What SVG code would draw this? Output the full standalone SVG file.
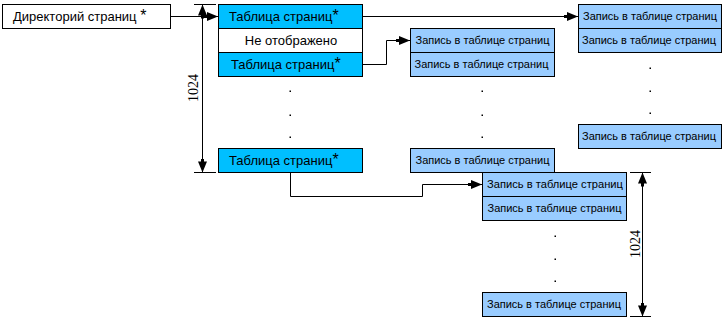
<svg xmlns="http://www.w3.org/2000/svg" width="722" height="318" viewBox="0 0 722 318">
<style>
.box{stroke:#000;stroke-width:1}
.pt{fill:#00BFFF}
.wh{fill:#FFFFFF}
.en{fill:#99CCFF}
.t{font-family:"Liberation Sans",Arial,sans-serif;font-size:13px;fill:#000}
.s{font-size:16px}
.e{font-family:"Liberation Sans",Arial,sans-serif;font-size:11.5px;fill:#000}
.d{font-family:"Liberation Serif","Times New Roman",serif;font-size:14px;fill:#000}
.ln{fill:none;stroke:#000;stroke-width:1}
.dot{fill:#000}
</style>
<defs>
<marker id="ah" markerUnits="userSpaceOnUse" markerWidth="16" markerHeight="12" refX="14" refY="5" orient="auto-start-reverse" viewBox="0 0 16 10">
<path d="M0,3.5 L3,3.5 L3,0.5 L14,5 L3,9.5 L3,6.5 L0,6.5 Z" fill="#000"/>
</marker>
</defs>
<rect width="722" height="318" fill="#FFFFFF"/>
<g id="connectors">
<line class="ln" x1="170.5" y1="16.5" x2="218" y2="16.5" marker-end="url(#ah)"/>
<line class="ln" x1="362.5" y1="16.5" x2="578" y2="16.5" marker-end="url(#ah)"/>
<polyline class="ln" points="362.5,64.5 386.5,64.5 386.5,40.5 410,40.5" marker-end="url(#ah)"/>
<polyline class="ln" points="290.5,172.5 290.5,196.5 422.5,196.5 422.5,184.5 482,184.5" marker-end="url(#ah)"/>
</g>
<g id="dim1">
<line class="ln" x1="194" y1="4.5" x2="216" y2="4.5"/>
<line class="ln" x1="194" y1="172.5" x2="216" y2="172.5"/>
<line class="ln" x1="202.5" y1="4.5" x2="202.5" y2="172.5" marker-start="url(#ah)" marker-end="url(#ah)"/>
<text class="d" transform="translate(198,88) rotate(-90)" text-anchor="middle">1024</text>
</g>
<g id="dim2">
<line class="ln" x1="630" y1="172.5" x2="651" y2="172.5"/>
<line class="ln" x1="630" y1="316.5" x2="651" y2="316.5"/>
<line class="ln" x1="642.5" y1="172.5" x2="642.5" y2="316.5" marker-start="url(#ah)" marker-end="url(#ah)"/>
<text class="d" transform="translate(640,244) rotate(-90)" text-anchor="middle">1024</text>
</g>
<g id="directory">
<rect class="box wh" x="2.5" y="4.5" width="168" height="24"/>
<text class="t" x="13" y="21">Директорий страниц <tspan class="s">*</tspan></text>
</g>
<g id="page-tables">
<rect class="box pt" x="218.5" y="4.5" width="144" height="24"/>
<text class="t" x="229" y="21">Таблица страниц<tspan class="s">*</tspan></text>
<rect class="box wh" x="218.5" y="28.5" width="144" height="24"/>
<text class="t" x="291" y="44.5" text-anchor="middle">Не отображено</text>
<rect class="box pt" x="218.5" y="52.5" width="144" height="24"/>
<text class="t" x="231" y="68.5">Таблица страниц<tspan class="s">*</tspan></text>
<rect class="dot" x="289.5" y="90.5" width="1.5" height="1.5"/>
<rect class="dot" x="289.5" y="114.5" width="1.5" height="1.5"/>
<rect class="dot" x="289.5" y="136.5" width="1.5" height="1.5"/>
<rect class="box pt" x="218.5" y="148.5" width="144" height="24"/>
<text class="t" x="229" y="164.5">Таблица страниц<tspan class="s">*</tspan></text>
</g>
<g id="table-a">
<rect class="box en" x="410.5" y="28.5" width="144" height="24"/>
<text class="e" x="415.5" y="44" textLength="134" lengthAdjust="spacingAndGlyphs">Запись в таблице страниц</text>
<rect class="box en" x="410.5" y="52.5" width="144" height="24"/>
<text class="e" x="414.5" y="68" textLength="134" lengthAdjust="spacingAndGlyphs">Запись в таблице страниц</text>
<rect class="dot" x="481.5" y="90.5" width="1.5" height="1.5"/>
<rect class="dot" x="481.5" y="114.5" width="1.5" height="1.5"/>
<rect class="dot" x="481.5" y="136.5" width="1.5" height="1.5"/>
<rect class="box en" x="410.5" y="148.5" width="144" height="24"/>
<text class="e" x="415.5" y="164" textLength="134" lengthAdjust="spacingAndGlyphs">Запись в таблице страниц</text>
</g>
<g id="table-b">
<rect class="box en" x="578.5" y="4.5" width="143" height="24"/>
<text class="e" x="583" y="20" textLength="134" lengthAdjust="spacingAndGlyphs">Запись в таблице страниц</text>
<rect class="box en" x="578.5" y="28.5" width="143" height="24"/>
<text class="e" x="582" y="44" textLength="134" lengthAdjust="spacingAndGlyphs">Запись в таблице страниц</text>
<rect class="dot" x="649.5" y="67.5" width="1.5" height="1.5"/>
<rect class="dot" x="649.5" y="90.5" width="1.5" height="1.5"/>
<rect class="dot" x="649.5" y="112.5" width="1.5" height="1.5"/>
<rect class="box en" x="578.5" y="124.5" width="143" height="24"/>
<text class="e" x="582" y="140" textLength="134" lengthAdjust="spacingAndGlyphs">Запись в таблице страниц</text>
</g>
<g id="table-c">
<rect class="box en" x="482.5" y="172.5" width="144" height="24"/>
<text class="e" x="487" y="188" textLength="136" lengthAdjust="spacingAndGlyphs">Запись в таблице страниц</text>
<rect class="box en" x="482.5" y="196.5" width="144" height="24"/>
<text class="e" x="487.5" y="212" textLength="134" lengthAdjust="spacingAndGlyphs">Запись в таблице страниц</text>
<rect class="dot" x="554.5" y="235.5" width="1.5" height="1.5"/>
<rect class="dot" x="554.5" y="258.5" width="1.5" height="1.5"/>
<rect class="dot" x="554.5" y="280.5" width="1.5" height="1.5"/>
<rect class="box en" x="482.5" y="292.5" width="144" height="24"/>
<text class="e" x="487" y="308" textLength="134" lengthAdjust="spacingAndGlyphs">Запись в таблице страниц</text>
</g>
</svg>
